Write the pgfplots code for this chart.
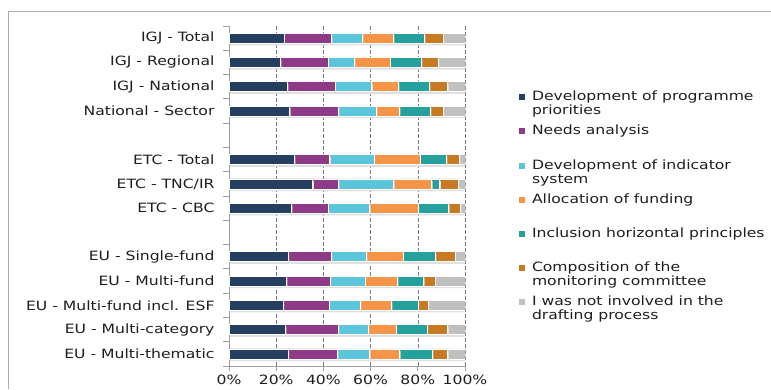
\documentclass[border=0pt]{standalone}
\usepackage{fontspec}
\setmainfont{DejaVu Sans}[FakeStretch=1.22]
\usepackage{pgfplots}
\usepackage{pgfplotstable}
\pgfplotsset{compat=1.18}

\definecolor{cPrio}{HTML}{243F60}
\definecolor{cNeeds}{HTML}{8E3A86}
\definecolor{cInd}{HTML}{5BC5DB}
\definecolor{cFund}{HTML}{F69547}
\definecolor{cHor}{HTML}{25A19D}
\definecolor{cComm}{HTML}{C77A21}
\definecolor{cNone}{HTML}{C0C0C0}
\definecolor{txt}{HTML}{1E1E1E}
\definecolor{gridc}{HTML}{7A7A7A}

% soft drop shadow under each bar segment, switched off for legend keys
\tikzset{barshadow/.style={preaction={fill=black!12, draw=none,
  transform canvas={xshift=1pt, yshift=-2.2pt}}}}
\makeatletter
\tikzset{no preaction/.code={\let\tikz@preactions\pgfutil@empty}}
\makeatother

% Share of respondents per drafting stage (rows 4 and 8 are spacers)
\pgfplotstableread{
pos prio needs ind  fund hor  comm none
0   23.3 20.1  13.1 13.1 13.2 7.9  9.3
1   21.8 20.1  11.2 15.1 13.3 7.2  11.3
2   24.7 20.2  15.6 11.3 13.1 7.8  7.3
3   25.7 20.6  16.1 9.8  13.1 5.4  9.3
5   27.7 15.0  18.7 19.5 11.2 5.5  2.4
6   35.5 10.8  23.5 16.1 3.4  7.9  2.8
7   26.4 15.5  17.7 20.5 13.0 4.9  2.0
9   25.0 18.4  14.8 15.5 13.7 8.4  4.2
10  24.3 18.6  14.7 13.7 11.2 4.8  12.7
11  22.9 19.5  13.2 13.2 11.3 4.4  15.5
12  23.9 22.4  12.7 11.8 13.1 8.8  7.3
13  25.0 20.9  13.7 12.7 13.9 6.5  7.3
}\drafting

\newcommand\legtext[1]{\parbox[t]{245pt}{\raggedright #1}}

\begin{document}
\begin{tikzpicture}
\useasboundingbox (0,0) rectangle (771pt,389pt);
\draw[gray!65, line width=1pt] (8pt,0pt) -- (8pt,377pt) -- (771pt,377pt);
\begin{axis}[
  at={(229pt,23pt)}, anchor=south west,
  scale only axis, width=236pt, height=340pt,
  xbar stacked, bar width=10pt,
  xmin=0, xmax=100, ymin=-0.5, ymax=13.5, y dir=reverse,
  axis x line*=bottom, axis y line*=left,
  axis line style={gray!75, line width=0.8pt, -},
  tick align=outside,
  major tick length=5pt, minor tick length=6pt,
  xtick={0,20,40,60,80,100},
  xticklabels={0\%,20\%,40\%,60\%,80\%,100\%},
  every major x tick/.append style={gray!75, line width=0.8pt},
  ytick={0,1,2,3,5,6,7,9,10,11,12,13},
  yticklabels={IGJ - Total, IGJ - Regional, IGJ - National, National - Sector,
    ETC - Total, ETC - TNC/IR, ETC - CBC,
    EU - Single-fund, EU - Multi-fund, EU - Multi-fund incl. ESF,
    EU - Multi-category, EU - Multi-thematic},
  minor ytick={-0.5,0.5,...,13.5},
  every major y tick/.append style={draw=none},
  every minor y tick/.append style={gray!75, line width=0.8pt},
  xmajorgrids,
  major grid style={gridc, dash pattern=on 3.5pt off 2.5pt, line width=0.6pt},
  tick label style={font=\fontsize{12.8}{14}\selectfont, text=txt},
  yticklabel style={xshift=-6pt},
  legend style={
    at={(1.2288,0.8147)}, anchor=north west,
    draw=none, fill=none, inner sep=0pt, outer sep=0pt,
    row sep={34.2pt,between origins}, column sep=5pt,
    font=\fontsize{12.8}{14}\selectfont, text=txt,
    cells={anchor=base west, inner sep=0pt},
  },
  legend image code/.code={\fill[#1, draw=none, no preaction] (0pt,0.5pt) rectangle (6pt,6.5pt);},
  every axis plot/.append style={draw=white, line width=0.7pt, barshadow},
]
\addplot[fill=cPrio]  table[x=prio,  y=pos] {\drafting};
\addplot[fill=cNeeds] table[x=needs, y=pos] {\drafting};
\addplot[fill=cInd]   table[x=ind,   y=pos] {\drafting};
\addplot[fill=cFund]  table[x=fund,  y=pos] {\drafting};
\addplot[fill=cHor]   table[x=hor,   y=pos] {\drafting};
\addplot[fill=cComm]  table[x=comm,  y=pos] {\drafting};
\addplot[fill=cNone]  table[x=none,  y=pos] {\drafting};
\addlegendentry{\legtext{Development of programme\\priorities}}
\addlegendentry{\legtext{Needs analysis}}
\addlegendentry{\legtext{Development of indicator\\system}}
\addlegendentry{\legtext{Allocation of funding}}
\addlegendentry{\legtext{Inclusion horizontal principles}}
\addlegendentry{\legtext{Composition of the\\monitoring committee}}
\addlegendentry{\legtext{I was not involved in the\\drafting process}}
\end{axis}
\end{tikzpicture}
\end{document}
